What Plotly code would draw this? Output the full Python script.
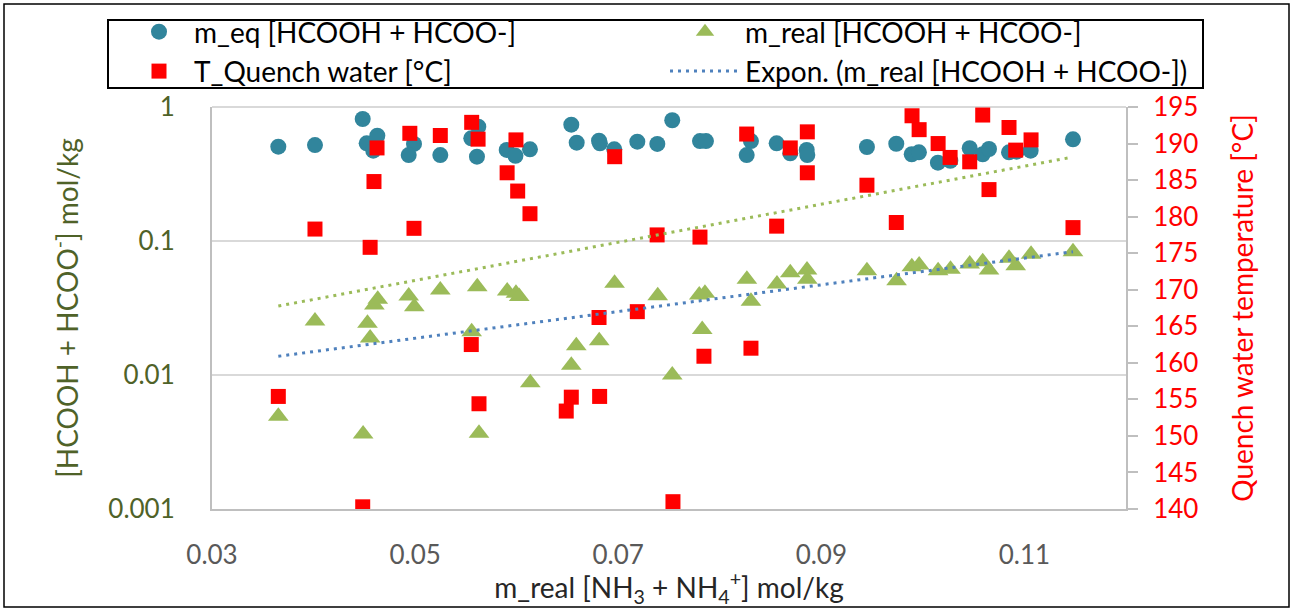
import plotly.graph_objects as go

# ---------------- data ----------------
eq_x = [0.03653, 0.04014, 0.04484, 0.04523, 0.04628, 0.04588, 0.04989, 0.04937, 0.05248,
        0.05553, 0.05622, 0.05609, 0.05902, 0.05988, 0.06131, 0.06538, 0.06591, 0.06811,
        0.06820, 0.06961, 0.07188, 0.07385, 0.07532, 0.07805, 0.07864, 0.08307, 0.08265,
        0.08560, 0.08694, 0.08856, 0.08862, 0.09449, 0.09738, 0.09890, 0.09961, 0.10148,
        0.10270, 0.10461, 0.10589, 0.10651, 0.10848, 0.10923, 0.11061, 0.11478]
eq_y = [0.506, 0.520, 0.814, 0.536, 0.610, 0.472, 0.530, 0.438, 0.438,
        0.584, 0.713, 0.426, 0.478, 0.432, 0.483, 0.738, 0.542, 0.561,
        0.536, 0.483, 0.551, 0.530, 0.796, 0.557, 0.557, 0.557, 0.438,
        0.536, 0.451, 0.478, 0.438, 0.503, 0.532, 0.444, 0.459, 0.384,
        0.397, 0.492, 0.444, 0.486, 0.459, 0.464, 0.472, 0.574]

real_x = [0.03653, 0.04014, 0.04488, 0.04531, 0.04557, 0.04599, 0.04632, 0.04937, 0.04992,
          0.05248, 0.05557, 0.05612, 0.05629, 0.05907, 0.05993, 0.06025, 0.06134, 0.06538,
          0.06587, 0.06813, 0.06964, 0.07389, 0.07532, 0.07798, 0.07827, 0.07854, 0.08267,
          0.08307, 0.08563, 0.08694, 0.08859, 0.08862, 0.09449, 0.09741, 0.09891, 0.09963,
          0.10150, 0.10272, 0.10461, 0.10589, 0.10651, 0.10848, 0.10914, 0.11065, 0.11478]
real_y = [0.00492, 0.0253, 0.00363, 0.0243, 0.0189, 0.0333, 0.0367, 0.0389, 0.0323,
          0.0431, 0.0210, 0.0456, 0.00367, 0.0423, 0.0407, 0.0385, 0.00877, 0.0118,
          0.0165, 0.0180, 0.0483, 0.0391, 0.0100, 0.0395, 0.0219, 0.0407, 0.0518,
          0.0355, 0.0478, 0.0580, 0.0608, 0.0518, 0.0600, 0.0506, 0.0643, 0.0662,
          0.0600, 0.0615, 0.0673, 0.0701, 0.0608, 0.0743, 0.0654, 0.0796, 0.0832]

t_x = [0.03653, 0.04014, 0.04484, 0.04557, 0.04595, 0.04625, 0.04948, 0.04989, 0.05248,
       0.05553, 0.05557, 0.05629, 0.05620, 0.05906, 0.05993, 0.06010, 0.06131, 0.06488,
       0.06538, 0.06817, 0.06811, 0.06965, 0.07188, 0.07539, 0.07383, 0.07805, 0.07844,
       0.08265, 0.08307, 0.08560, 0.08694, 0.08862, 0.08862, 0.09449, 0.09738, 0.09893,
       0.09963, 0.10150, 0.10268, 0.10461, 0.10589, 0.10651, 0.10848, 0.10914, 0.11065,
       0.11478]
t_y = [155.4, 178.3, 140.3, 175.8, 184.8, 189.4, 191.4, 178.4, 191.1,
       162.5, 192.9, 154.4, 190.6, 186.0, 190.5, 183.5, 180.4, 153.4,
       155.3, 155.4, 166.2, 188.2, 167.0, 141.0, 177.5, 177.2, 160.9,
       191.3, 162.0, 178.7, 189.4, 191.6, 186.0, 184.3, 179.2, 193.8,
       191.9, 190.0, 188.1, 187.5, 193.9, 183.7, 192.2, 189.1, 190.5,
       178.5]

# exponential trendlines (straight on the log axis)
trend_real_x = [0.03653, 0.11478]
trend_real_y = [0.0138, 0.0832]
trend_other_x = [0.03653, 0.11440]
trend_other_y = [0.0327, 0.418]

x_ticks = [0.03, 0.05, 0.07, 0.09, 0.11]
x_ticktext = ["0.03", "0.05", "0.07", "0.09", "0.11"]
y_ticks = [0.001, 0.01, 0.1, 1]
y_ticktext = ["0.001", "0.01", "0.1", "1"]
y2_ticks = list(range(140, 200, 5))

FONT = "Lato"
W, H = 1292, 608
L, R, T, B = 212, 166, 107, 99
PW, PH = W - L - R, H - T - B

def px(xp):
    return (xp - L) / PW

def py(yp):
    return (H - B - yp) / PH

fig = go.Figure()
fig.add_trace(go.Scatter(x=eq_x, y=eq_y, mode="markers", name="m_eq [HCOOH + HCOO-]",
                         marker=dict(symbol="circle", size=16, color="#31859C"),
                         xaxis="x", yaxis="y", legend="legend"))
fig.add_trace(go.Scatter(x=real_x, y=real_y, mode="markers", name="m_real [HCOOH + HCOO-]",
                         marker=dict(symbol="triangle-up", size=18, color="#9BBB59"),
                         xaxis="x", yaxis="y", legend="legend2"))
fig.add_trace(go.Scatter(x=t_x, y=t_y, mode="markers", name="T_Quench water [°C]",
                         marker=dict(symbol="square", size=15, color="#FF0000"),
                         xaxis="x", yaxis="y2", legend="legend"))
fig.add_trace(go.Scatter(x=trend_real_x, y=trend_real_y, mode="lines",
                         name="Expon. (m_real [HCOOH + HCOO-])",
                         line=dict(color="#4F81BD", width=3, dash="3px,5px"),
                         xaxis="x", yaxis="y3", legend="legend2"))
fig.add_trace(go.Scatter(x=trend_other_x, y=trend_other_y, mode="lines", showlegend=False,
                         line=dict(color="#9BBB59", width=3, dash="3px,5px"),
                         xaxis="x", yaxis="y3"))

legend_common = dict(orientation="v", xanchor="left", yanchor="top",
                     bgcolor="rgba(0,0,0,0)", borderwidth=0,
                     font=dict(family=FONT, size=28, color="black"))

fig.update_layout(
    width=W, height=H,
    margin=dict(l=L, r=R, t=T, b=B, autoexpand=False),
    paper_bgcolor="white", plot_bgcolor="white",
    font=dict(family=FONT, size=26, color="black"),
    showlegend=True,
    legend=dict(x=px(124), y=py(7), itemwidth=60, **legend_common),
    legend2=dict(x=px(665), y=py(7), itemwidth=70, **legend_common),
    xaxis=dict(range=[0.03, 0.12], tickvals=x_ticks, ticktext=x_ticktext,
               showgrid=False, zeroline=False, showline=True, linecolor="#BFBFBF", linewidth=2,
               ticks="", ticklabelstandoff=22, tickfont=dict(size=26, color="#595959"),
               title=dict(text="m_real [NH<sub>3</sub> + NH<sub>4</sub><sup>+</sup>] mol/kg",
                          font=dict(size=28, color="#262626"), standoff=12)),
    yaxis=dict(type="log", range=[-3, 0], tickvals=y_ticks, ticktext=y_ticktext,
               showgrid=True, gridcolor="#D9D9D9", gridwidth=2, zeroline=False,
               showline=True, linecolor="#BFBFBF", linewidth=2, ticks="",
               ticklabelstandoff=30,
               tickfont=dict(size=26, color="#4F6228"),
               title=dict(text="[HCOOH + HCOO<sup>-</sup>] mol/kg",
                          font=dict(size=28, color="#4F6228"), standoff=22)),
    yaxis2=dict(range=[140, 195], tickvals=y2_ticks, overlaying="y", side="right",
                showgrid=False, zeroline=False, showline=True, linecolor="#BFBFBF", linewidth=2,
                ticks="outside", ticklen=10, tickcolor="#BFBFBF", tickwidth=2,
                ticklabelstandoff=10,
                tickfont=dict(size=26, color="#FF0000"),
                title=dict(text="Quench water temperature [°C]",
                           font=dict(size=28, color="#FF0000"), standoff=36)),
    yaxis3=dict(type="log", range=[-3, 0], overlaying="y", visible=False),
    shapes=[
        dict(type="line", xref="paper", yref="paper", x0=0, x1=1, y0=1, y1=1,
             line=dict(color="#D9D9D9", width=2), layer="below"),
        dict(type="rect", xref="paper", yref="paper", x0=px(108), x1=px(1203), y0=py(20), y1=py(88),
             line=dict(color="black", width=2), fillcolor="rgba(0,0,0,0)", layer="above"),
        dict(type="rect", xref="paper", yref="paper", x0=px(4), x1=px(1289), y0=py(4), y1=py(607),
             line=dict(color="black", width=1.5), fillcolor="rgba(0,0,0,0)", layer="below"),
    ],
)

fig.write_html("out.html")
